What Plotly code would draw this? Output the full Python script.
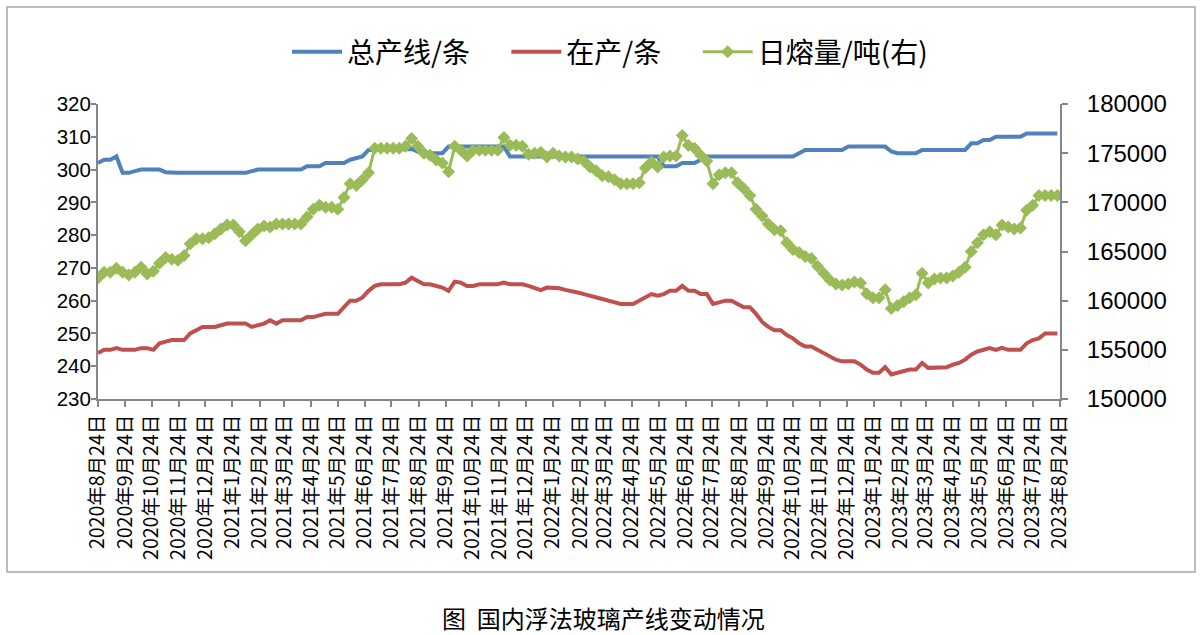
import pandas as pd
import plotly.graph_objects as go

# weekly dates
dates = pd.date_range("2020-08-24", periods=157, freq="7D")

total_lines = [
    302, 303, 303, 304, 299, 299, 299.5, 300, 300, 300,
    300, 299.2, 299, 299, 299, 299, 299, 299, 299, 299,
    299, 299, 299, 299, 299, 299.5, 300, 300, 300, 300,
    300, 300, 300, 300, 301, 301, 301, 302, 302, 302,
    302, 303, 303.5, 304, 306, 306, 306, 306, 306, 306,
    306, 306.3, 305.5, 305, 305, 305, 305, 307, 307, 307,
    307, 307, 307, 307, 307, 307, 307, 304, 304, 304,
    304, 304, 304, 304, 304, 304, 304, 304, 304, 304,
    304, 304, 304, 304, 304, 304, 304, 304, 304, 304,
    304, 304, 301, 301, 301, 302, 302, 302, 303, 304,
    304, 304, 304, 304, 304, 304, 304, 304, 304, 304,
    304, 304, 304, 304, 305, 306, 306, 306, 306, 306,
    306, 306, 307, 307, 307, 307, 307, 307, 307, 305.5,
    305, 305, 305, 305, 306, 306, 306, 306, 306, 306,
    306, 306, 308, 308, 309, 309, 310, 310, 310, 310,
    310, 311, 311, 311, 311, 311, 311,
]

running_lines = [
    244, 245, 245, 245.5, 245, 245, 245, 245.5, 245.5, 245,
    247, 247.5, 248, 248, 248, 250, 251, 252, 252, 252,
    252.5, 253, 253, 253, 253, 252, 252.5, 253, 254, 253,
    254, 254, 254, 254, 255, 255, 255.5, 256, 256, 256,
    258, 260, 260, 261, 263, 264.5, 265, 265, 265, 265,
    265.5, 267, 266, 265, 265, 264.5, 264, 263, 265.8, 265.5,
    264.5, 264.5, 265, 265, 265, 265, 265.5, 265, 265, 265,
    264.5, 264, 263.2, 264, 264, 263.8, 263.3, 263, 262.5, 262,
    261.6, 261, 260.5, 260, 259.5, 259, 259, 259, 260, 261,
    262, 261.5, 262, 263, 263, 264.5, 263, 263, 262, 262,
    259, 259.5, 260, 260, 259, 258, 258, 256, 253.5, 252,
    251, 251, 249.5, 248.5, 247, 246, 246, 245, 244, 243,
    242, 241.5, 241.5, 241.5, 240.5, 239, 238, 238, 239.7, 237.5,
    238, 238.5, 239, 239, 241, 239.5, 239.5, 239.7, 239.7, 240.5,
    241, 242, 243.5, 244.5, 245, 245.5, 245, 245.6, 245, 245,
    245, 247, 248, 248.5, 250, 250, 250,
]

daily_melt = [
    162300, 162900, 162900, 163300, 162900, 162600, 162900, 163400, 162700, 163000,
    163800, 164400, 164200, 164100, 164600, 165800, 166300, 166300, 166400, 166800,
    167300, 167700, 167700, 167000, 166100, 166700, 167300, 167600, 167500, 167800,
    167800, 167800, 167800, 167800, 168500, 169300, 169700, 169500, 169500, 169300,
    170500, 171900, 171700, 172300, 173000, 175500, 175500, 175500, 175500, 175500,
    175700, 176500, 175700, 175000, 174800, 174300, 174000, 173100, 175700, 175300,
    174700, 175300, 175300, 175300, 175300, 175300, 176600, 175800, 175800, 175700,
    174900, 175000, 175100, 174600, 175000, 174700, 174600, 174600, 174400, 174200,
    173600, 173200, 172700, 172600, 172300, 171900, 171900, 171900, 172000, 173500,
    174100, 173600, 174600, 174700, 174700, 176800, 175800, 175500, 174800, 174200,
    171900, 172800, 173000, 173000, 172000, 171400, 170700, 169300, 168600, 167800,
    167200, 167100, 165900, 165200, 164900, 164500, 164300, 163500, 162800, 162100,
    161700, 161600, 161700, 161900, 161800, 160700, 160300, 160300, 161100, 159200,
    159500, 159900, 160300, 160600, 162800, 161800, 162200, 162300, 162300, 162500,
    162900, 163400, 165000, 165900, 166700, 167000, 166700, 167700, 167500, 167300,
    167400, 169200, 169700, 170700, 170700, 170700, 170700,
]

tick_dates = pd.date_range("2020-08-24", "2023-08-24", freq=pd.DateOffset(months=1))
tick_labels = [f"{d.year}年{d.month}月24日" for d in tick_dates]

FONT = "Liberation Sans, Arial, Noto Sans CJK SC"
CJK = "Noto Sans CJK SC, Liberation Sans"
AX = "#868686"
PAD = "\u00a0" * 5

fig = go.Figure()
fig.add_trace(go.Scatter(x=dates, y=total_lines, name="总产线/条" + PAD, mode="lines",
                         line=dict(color="#4F81BD", width=4)))
fig.add_trace(go.Scatter(x=dates, y=running_lines, name="在产/条" + PAD, mode="lines",
                         line=dict(color="#C0504D", width=4)))
fig.add_trace(go.Scatter(x=dates, y=daily_melt, name="日熔量/吨(右)", mode="lines+markers",
                         line=dict(color="#9BBB59", width=3),
                         marker=dict(symbol="diamond", size=10, color="#9BBB59"),
                         yaxis="y2"))

L, R, T, B = 98, 1060, 104, 399
W, H = 1202, 635
fig.update_layout(
    width=W, height=H,
    margin=dict(l=L, r=W - R, t=T, b=H - B, pad=0),
    paper_bgcolor="white", plot_bgcolor="white",
    font=dict(family=FONT, size=19, color="#000000"),
    showlegend=True,
    legend=dict(orientation="h", x=(287 - L) / (R - L), xanchor="left",
                y=(B - 52) / (B - T), yanchor="middle",
                font=dict(family=CJK, size=28), itemwidth=50,
                traceorder="normal", tracegroupgap=0),
    xaxis=dict(type="date", range=["2020-08-24", "2023-08-24"],
               tickvals=tick_dates, ticktext=tick_labels, tickangle=-90,
               tickfont=dict(family=CJK, size=19.5),
               showline=True, linecolor=AX, linewidth=2,
               ticks="outside", tickcolor=AX, ticklen=6, tickwidth=1.5,
               showgrid=False, zeroline=False),
    yaxis=dict(range=[230, 320], dtick=10, tick0=230,
               showline=True, linecolor=AX, linewidth=2,
               ticks="outside", tickcolor=AX, ticklen=5, tickwidth=1.5,
               showgrid=False, zeroline=False,
               tickfont=dict(size=20.5), ticklabelstandoff=-4),
    yaxis2=dict(range=[150000, 180000], dtick=5000, tick0=150000,
                tickformat="d",
                overlaying="y", side="right",
                showline=True, linecolor=AX, linewidth=2,
                ticks="outside", tickcolor=AX, ticklen=6, tickwidth=1.5,
                showgrid=False, zeroline=False,
                tickfont=dict(size=24), ticklabelstandoff=14),
)

# outer chart border
fig.add_shape(type="rect", xref="paper", yref="paper",
              x0=(7 - L) / (R - L), x1=(1195 - L) / (R - L),
              y0=(B - 572) / (B - T), y1=(B - 7) / (B - T),
              line=dict(color="#A6A6A6", width=1.5), fillcolor="rgba(0,0,0,0)",
              layer="below")

fig.add_annotation(text="图  国内浮法玻璃产线变动情况", xref="paper", yref="paper",
                   x=(603 - L) / (R - L), y=(B - 617) / (B - T),
                   xanchor="center", yanchor="middle", showarrow=False,
                   font=dict(family=CJK, size=24, color="#000000"))

fig.write_html("out.html", config={"displayModeBar": False},
               post_script="document.body.style.margin='0';document.body.style.overflow='hidden';")
